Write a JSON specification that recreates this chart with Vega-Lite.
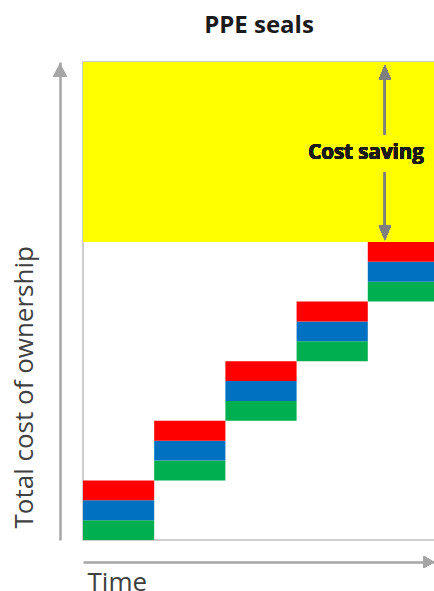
{
  "$schema": "https://vega.github.io/schema/vega-lite/v6.json",
  "autosize": "none",
  "padding": {"left": 83, "top": 62, "right": 0, "bottom": 51},
  "width": 352,
  "height": 478,
  "title": {
    "text": "PPE seals",
    "font": "Open Sans",
    "fontSize": 24,
    "fontWeight": "bold",
    "color": "#1a1a1a",
    "frame": "group",
    "anchor": "middle",
    "baseline": "alphabetic",
    "offset": 5
  },
  "data": {
    "values": [
      {"step": 1, "part": "Component 1", "lo": 0, "hi": 0.333},
      {"step": 1, "part": "Component 2", "lo": 0.333, "hi": 0.667},
      {"step": 1, "part": "Component 3", "lo": 0.667, "hi": 1},
      {"step": 2, "part": "Component 1", "lo": 1, "hi": 1.333},
      {"step": 2, "part": "Component 2", "lo": 1.333, "hi": 1.667},
      {"step": 2, "part": "Component 3", "lo": 1.667, "hi": 2},
      {"step": 3, "part": "Component 1", "lo": 2, "hi": 2.333},
      {"step": 3, "part": "Component 2", "lo": 2.333, "hi": 2.667},
      {"step": 3, "part": "Component 3", "lo": 2.667, "hi": 3},
      {"step": 4, "part": "Component 1", "lo": 3, "hi": 3.333},
      {"step": 4, "part": "Component 2", "lo": 3.333, "hi": 3.667},
      {"step": 4, "part": "Component 3", "lo": 3.667, "hi": 4},
      {"step": 5, "part": "Component 1", "lo": 4, "hi": 4.333},
      {"step": 5, "part": "Component 2", "lo": 4.333, "hi": 4.667},
      {"step": 5, "part": "Component 3", "lo": 4.667, "hi": 5}
    ]
  },
  "encoding": {
    "x": {
      "type": "quantitative",
      "scale": {"domain": [0, 4.944], "nice": false, "zero": false},
      "axis": {
        "orient": "bottom",
        "offset": 22,
        "ticks": false,
        "labels": false,
        "grid": false,
        "domainColor": "#a6a6a6",
        "domainWidth": 2.5,
        "title": "Time",
        "titleFont": "Open Sans",
        "titleFontSize": 26,
        "titleFontWeight": "normal",
        "titleColor": "#404040",
        "titleAlign": "left",
        "titleBaseline": "alphabetic",
        "titleX": 4,
        "titleY": 28
      }
    },
    "y": {
      "type": "quantitative",
      "scale": {"domain": [0, 8.02], "nice": false, "zero": false},
      "axis": {
        "orient": "left",
        "offset": 23,
        "ticks": false,
        "labels": false,
        "grid": false,
        "domainColor": "#a6a6a6",
        "domainWidth": 2.5,
        "title": "Total cost of ownership",
        "titleFont": "Open Sans",
        "titleFontSize": 26,
        "titleFontWeight": "normal",
        "titleColor": "#404040",
        "titleAngle": 270,
        "titleAlign": "left",
        "titleBaseline": "alphabetic",
        "titleX": -28,
        "titleY": 466
      }
    }
  },
  "layer": [
    {
      "mark": {"type": "rect", "color": "#ffff00", "clip": true},
      "encoding": {
        "x": {"datum": 0},
        "x2": {"datum": 4.944},
        "y": {"datum": 5},
        "y2": {"datum": 8.02}
      }
    },
    {
      "mark": {"type": "rect", "clip": true},
      "transform": [
        {"calculate": "datum.step - 1", "as": "x0"}
      ],
      "encoding": {
        "x": {"field": "x0"},
        "x2": {"field": "step"},
        "y": {"field": "lo"},
        "y2": {"field": "hi"},
        "color": {
          "field": "part",
          "type": "nominal",
          "scale": {
            "domain": ["Component 1", "Component 2", "Component 3"],
            "range": ["#00b050", "#0070c0", "#ff0000"]
          },
          "legend": null
        }
      }
    },
    {
      "mark": {"type": "rule", "color": "#7f7f7f", "strokeWidth": 2},
      "encoding": {
        "x": {"datum": 4.24},
        "y": {"datum": 6.8},
        "y2": {"datum": 7.8}
      }
    },
    {
      "mark": {"type": "rule", "color": "#7f7f7f", "strokeWidth": 2},
      "encoding": {
        "x": {"datum": 4.24},
        "y": {"datum": 5.2},
        "y2": {"datum": 6.17}
      }
    },
    {
      "mark": {"type": "point", "filled": true, "opacity": 1, "color": "#7f7f7f", "size": 36, "shape": "M0,0L-2,4.8L2,4.8Z"},
      "encoding": {
        "x": {"datum": 4.24},
        "y": {"datum": 7.97}
      }
    },
    {
      "mark": {"type": "point", "filled": true, "opacity": 1, "color": "#7f7f7f", "size": 36, "shape": "M0,0L-2,-4.8L2,-4.8Z"},
      "encoding": {
        "x": {"datum": 4.24},
        "y": {"datum": 5.03}
      }
    },
    {
      "mark": {"type": "text", "font": "Open Sans", "fontSize": 20.5, "fontWeight": "bold", "color": "#1a1a1a", "align": "center", "baseline": "middle"},
      "encoding": {
        "x": {"datum": 3.975},
        "y": {"datum": 6.49},
        "text": {"value": "Cost saving"}
      }
    },
    {
      "mark": {"type": "point", "filled": true, "opacity": 1, "color": "#a6a6a6", "size": 36, "shape": "M0,0L-2.2,4.2L2.2,4.2Z"},
      "encoding": {
        "x": {"datum": -0.323},
        "y": {"datum": 7.99}
      }
    },
    {
      "mark": {"type": "point", "filled": true, "opacity": 1, "color": "#a6a6a6", "size": 36, "shape": "M0,0L-3.4,-2L-3.4,2Z"},
      "encoding": {
        "x": {"datum": 4.93},
        "y": {"datum": -0.369}
      }
    }
  ],
  "config": {
    "view": {"stroke": "#bfbfbf", "strokeWidth": 1.5},
    "background": "white"
  }
}
